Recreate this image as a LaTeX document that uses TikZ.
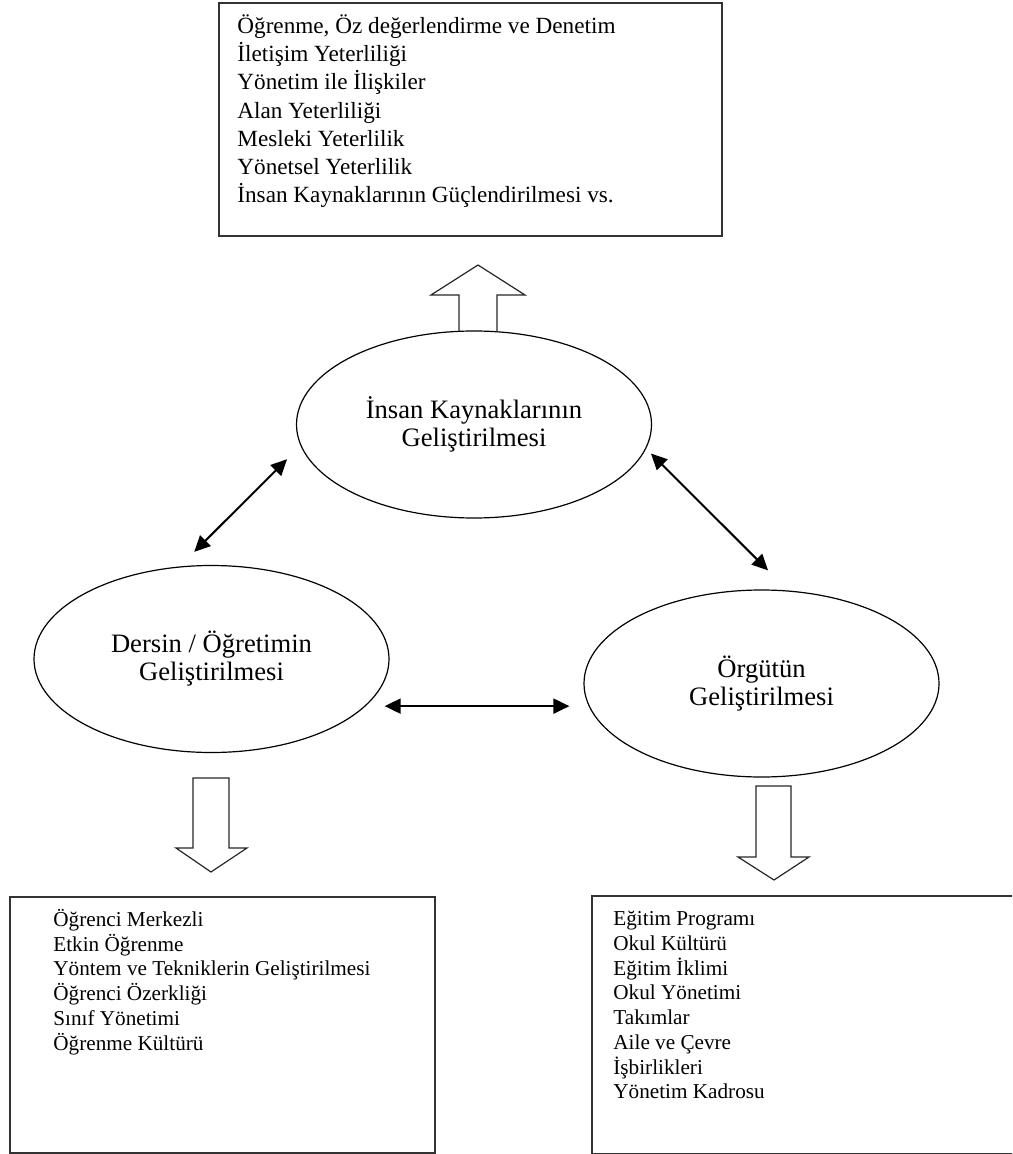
\documentclass[tikz,border=0pt]{standalone}
\usepackage{fontspec}
\setmainfont{Liberation Serif}
\usetikzlibrary{shapes.geometric,arrows.meta,calc,positioning}

\tikzset{
    bereich/.style={ellipse, draw=black, line width=0.6pt, minimum width=177.5pt, minimum height=93.5pt, inner sep=0pt, align=center, font=\fontsize{13.3}{14}\selectfont},
    kasten/.style={rectangle, draw=black!80, line width=0.8pt, inner sep=0pt},
    liste/.style={align=left, inner sep=0pt, anchor=north west},
    pfeil/.style={{Triangle[length=8pt,width=7.5pt]}-{Triangle[length=8pt,width=7.5pt]}, line width=1pt},
    block/.style={draw=black!85, line width=0.6pt, line join=miter}
}

\begin{document}
\begin{tikzpicture}[x=0.5pt, y=-0.5pt]
        % Rahmen
        \useasboundingbox (0,0) rectangle (1012,1154);
        \clip (0,0) rectangle (1012,1154);

        % Ellipsen
        \node[bereich] (insan) at (474,424.5) {İnsan Kaynaklarının\\Geliştirilmesi};
        \node[bereich] (ders) at (211.5,659) {Dersin / Öğretimin\\Geliştirilmesi};
        \node[bereich] (orgut) at (761.5,683.5) {Örgütün\\Geliştirilmesi};

        % Wechselwirkungen
        \draw[pfeil, shorten <=10.3pt, shorten >=9.5pt] (ders.109) -- (insan.187.7);
        \draw[pfeil, shorten <=3.4pt, shorten >=14.2pt] (insan.-8.5) -- (orgut.74.5);
        \draw[pfeil, shorten <=9.5pt, shorten >=7pt] (ders.-17.5) -- (ders.-17.5 -| orgut.west);

        % Blockpfeile
        \draw[block] (459,331.5) -- (459,295) -- (431,295) -- (478,265) -- (525,295) -- (497,295) -- (497,331.8);
        \draw[block] (193,778) -- (229,778) -- (229,848) -- (247,848) -- (211,872) -- (176,848) -- (193,848) -- cycle;
        \draw[block] (756,786) -- (791,786) -- (791,857) -- (809,857) -- (774,880) -- (738,857) -- (756,857) -- cycle;

        % Kaesten
        \node[kasten, minimum width=251.5pt, minimum height=116.5pt, anchor=north west] (ustkasten) at (218,2) {};
        \node[kasten, minimum width=212.5pt, minimum height=128pt, anchor=north west] (solkasten) at (9,896) {};
        \node[kasten, minimum width=225pt, minimum height=129pt, anchor=north west] (sagkasten) at (591,895) {};

        % Listen
        \node[liste, font=\fontsize{11.6}{14.15}\selectfont] (ustliste) at ([xshift=9.5pt, yshift=-6pt]ustkasten.north west)
            {Öğrenme, Öz değerlendirme ve Denetim\\İletişim Yeterliliği\\Yönetim ile İlişkiler\\Alan Yeterliliği\\Mesleki Yeterlilik\\Yönetsel Yeterlilik\\İnsan Kaynaklarının Güçlendirilmesi vs.};
        \node[liste, font=\fontsize{10.6}{12.35}\selectfont] (solliste) at ([xshift=22pt, yshift=-6.5pt]solkasten.north west)
            {Öğrenci Merkezli\\Etkin Öğrenme\\Yöntem ve Tekniklerin Geliştirilmesi\\Öğrenci Özerkliği\\Sınıf Yönetimi\\Öğrenme Kültürü};
        \node[liste, font=\fontsize{10.6}{12.35}\selectfont] (sagliste) at ([xshift=11pt, yshift=-8pt]sagkasten.north west)
            {Eğitim Programı\\Okul Kültürü\\Eğitim İklimi\\Okul Yönetimi\\Takımlar\\Aile ve Çevre\\İşbirlikleri\\Yönetim Kadrosu};

\end{tikzpicture}
\end{document}
